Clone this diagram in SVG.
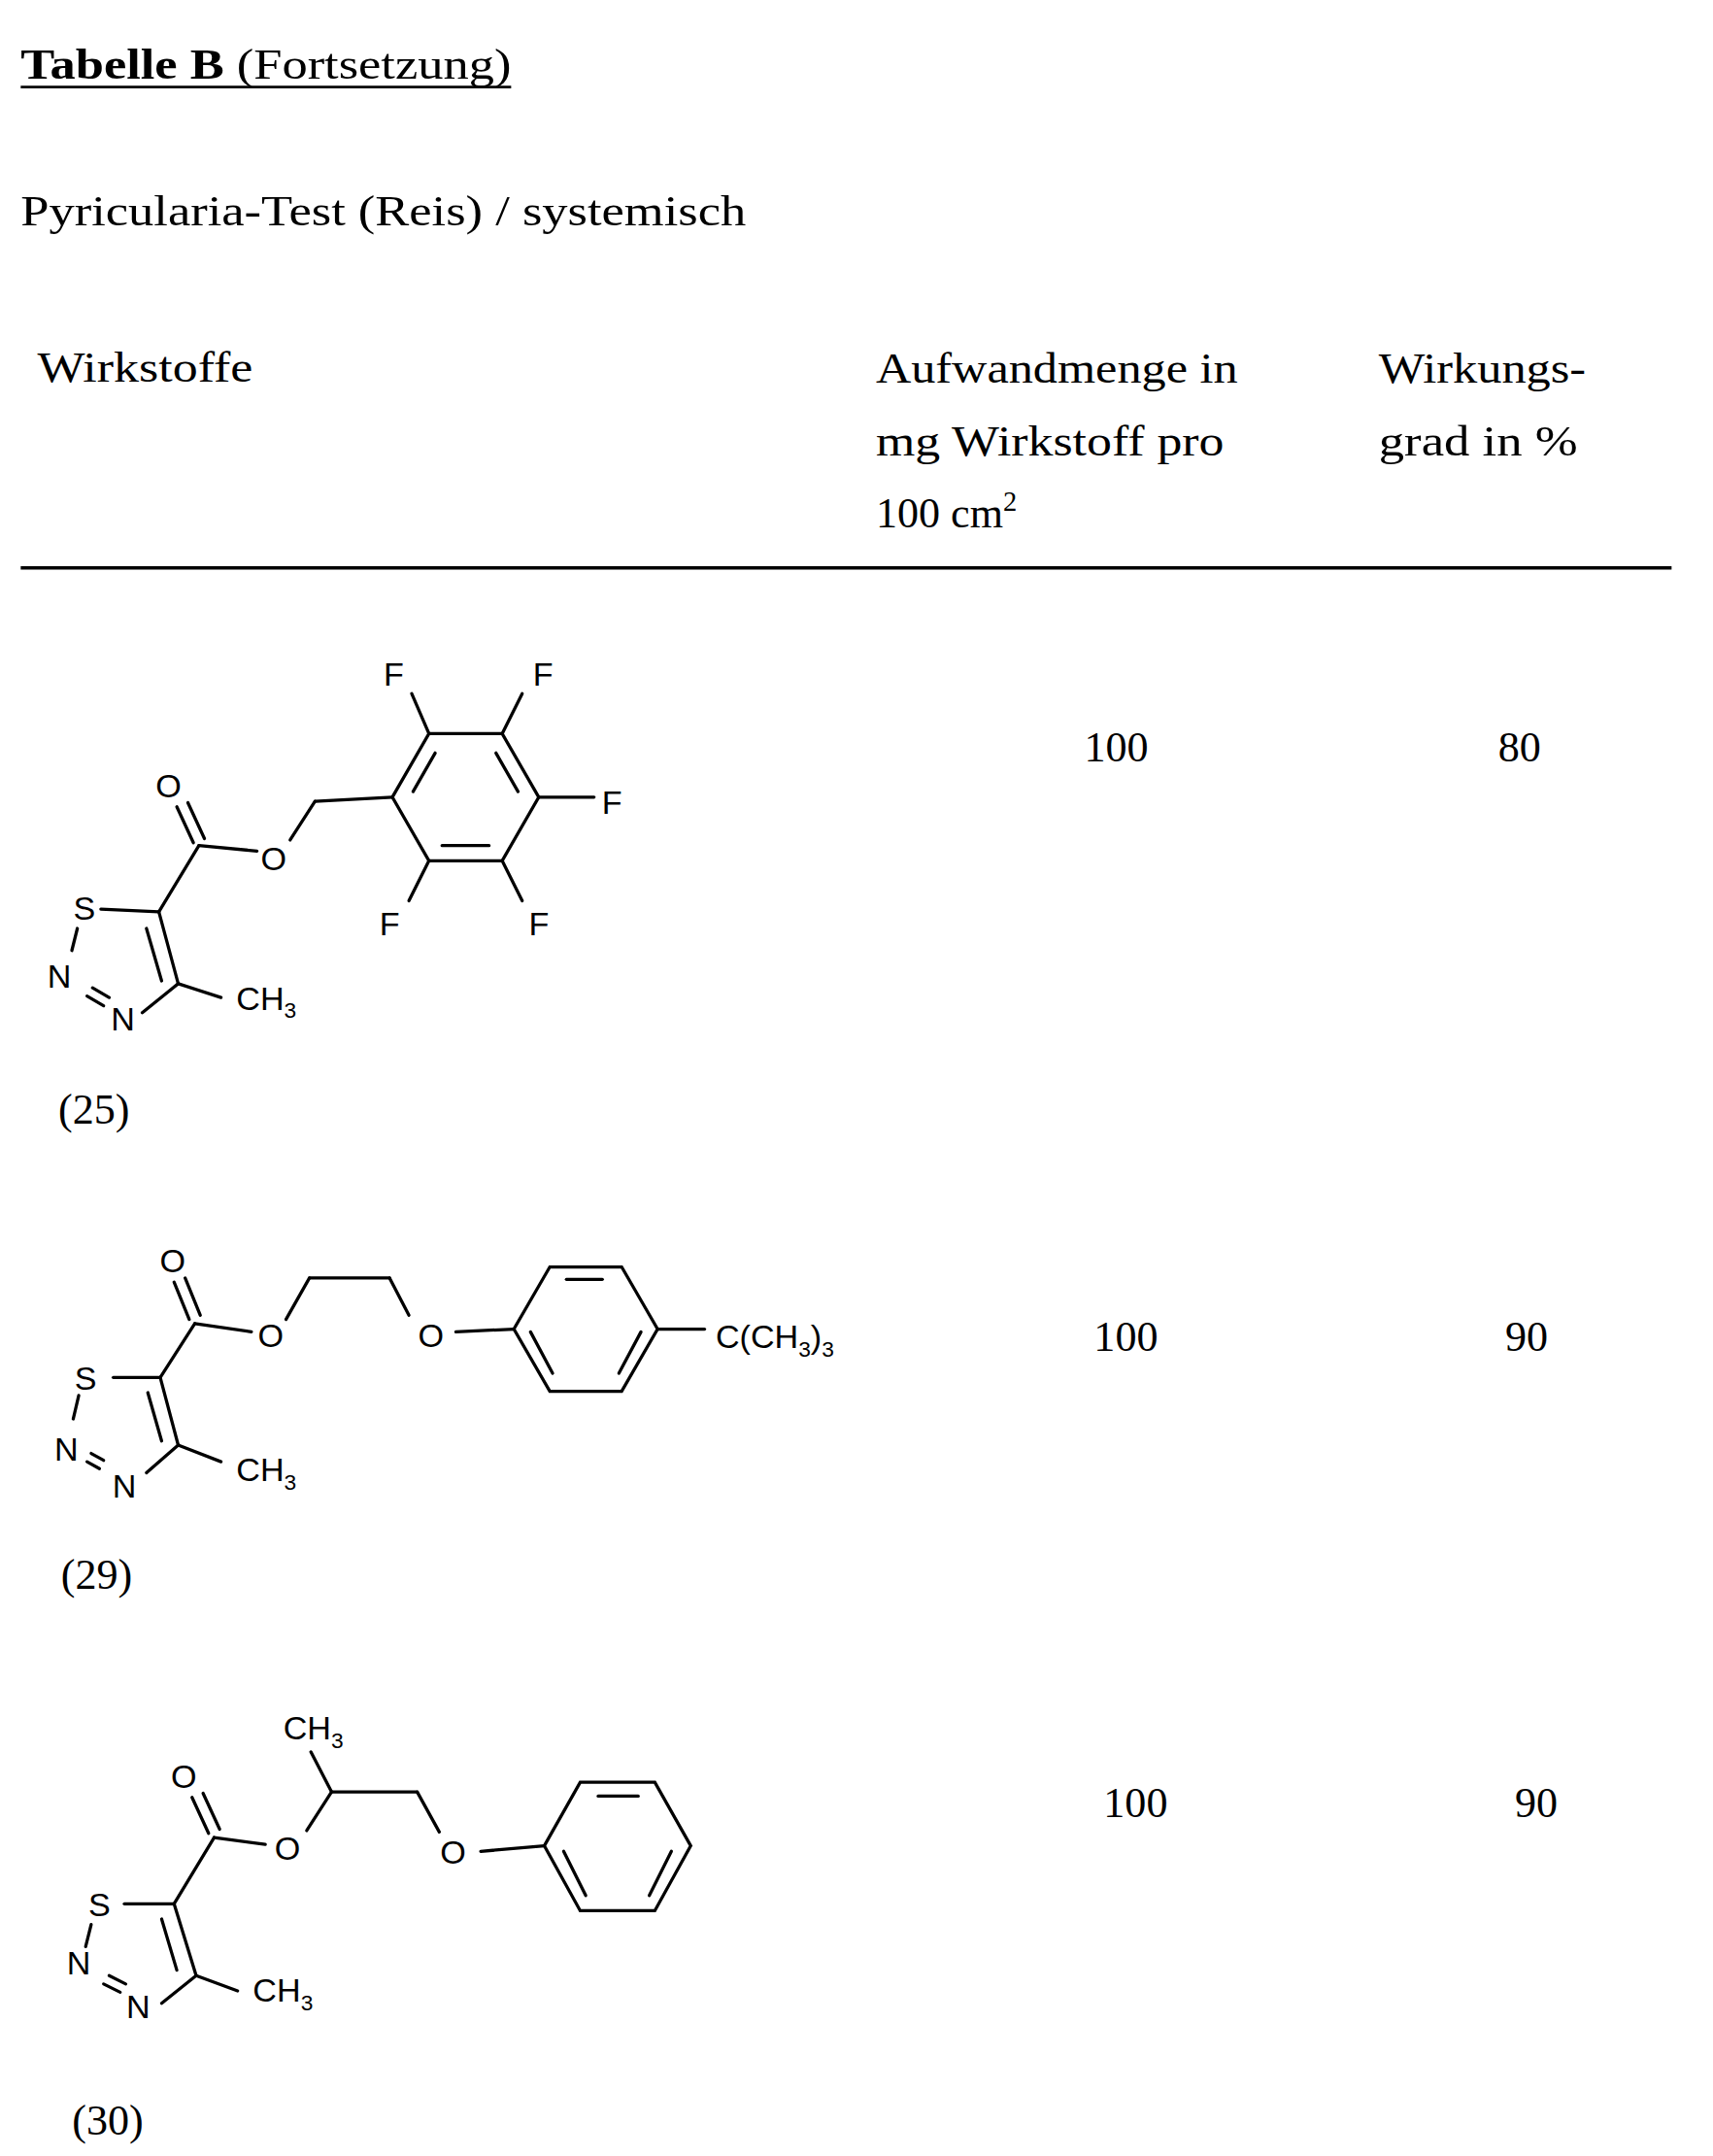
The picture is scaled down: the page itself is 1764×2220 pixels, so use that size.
<svg xmlns="http://www.w3.org/2000/svg" width="1764" height="2220" viewBox="0 0 1764 2220">
<style>
.b{stroke:#000;stroke-width:2.3;fill:none;stroke-linecap:round}
.a{font-family:"Liberation Sans",Arial,sans-serif;font-size:24px;fill:#000;text-anchor:middle}
.l{font-family:"Liberation Sans",Arial,sans-serif;font-size:24px;fill:#000;text-anchor:start}
.t{font-family:"Liberation Serif","Times New Roman",serif;font-size:31px;fill:#000}
.c{text-anchor:middle}
.s{font-size:16px}
</style>
<rect width="1764" height="2220" fill="#fff"/>
<g transform="scale(1.4226)">
<g id="header">
<text class="t" x="15" y="57" textLength="355" lengthAdjust="spacingAndGlyphs"><tspan font-weight="bold">Tabelle B</tspan> (Fortsetzung)</text>
<line x1="15" y1="63" x2="370" y2="63" stroke="#000" stroke-width="2"/>
<text class="t" x="15" y="163" textLength="525" lengthAdjust="spacingAndGlyphs">Pyricularia-Test (Reis) / systemisch</text>
<text class="t" x="27" y="276" textLength="156" lengthAdjust="spacingAndGlyphs">Wirkstoffe</text>
<text class="t" x="634" y="277" textLength="262" lengthAdjust="spacingAndGlyphs">Aufwandmenge in</text>
<text class="t" x="634" y="330" textLength="252" lengthAdjust="spacingAndGlyphs">mg Wirkstoff pro</text>
<text class="t" x="634" y="382">100 cm<tspan dy="-12" font-size="20">2</tspan></text>
<text class="t" x="998" y="277" textLength="150" lengthAdjust="spacingAndGlyphs">Wirkungs-</text>
<text class="t" x="998" y="330" textLength="144" lengthAdjust="spacingAndGlyphs">grad in %</text>
<line x1="15" y1="411" x2="1210" y2="411" stroke="#000" stroke-width="2.5"/>
</g>
<g id="values">
<text class="t c" x="808" y="551">100</text>
<text class="t c" x="1100" y="551">80</text>
<text class="t c" x="815" y="978">100</text>
<text class="t c" x="1105" y="978">90</text>
<text class="t c" x="822" y="1315">100</text>
<text class="t c" x="1112" y="1315">90</text>
</g>
<g id="compound25">
<g class="b">
<polygon points="390,577 363.5,531 310.5,531 284,577 310.5,623 363.5,623"/>
<line x1="315" y1="545" x2="299" y2="573"/>
<line x1="359" y1="545" x2="375" y2="573"/>
<line x1="320" y1="612" x2="354" y2="612"/>
<line x1="310.5" y1="531" x2="298" y2="502"/>
<line x1="363.5" y1="531" x2="378" y2="502"/>
<line x1="390" y1="577" x2="430" y2="577"/>
<line x1="310.5" y1="623" x2="296" y2="652"/>
<line x1="363.5" y1="623" x2="378" y2="652"/>
<line x1="284" y1="577" x2="228" y2="580"/>
<line x1="228" y1="580" x2="210" y2="608"/>
<line x1="144" y1="612" x2="186" y2="616"/>
<line x1="140" y1="610" x2="128" y2="584"/>
<line x1="148" y1="607" x2="136" y2="581"/>
<line x1="144" y1="612" x2="115" y2="660"/>
<line x1="73" y1="658" x2="115" y2="660"/>
<line x1="115" y1="660" x2="129" y2="712"/>
<line x1="106" y1="672" x2="117" y2="710"/>
<line x1="129" y1="712" x2="160" y2="722"/>
<line x1="129" y1="712" x2="103" y2="733"/>
<line x1="56" y1="672" x2="52" y2="688"/>
<line x1="63" y1="721" x2="75" y2="728"/>
<line x1="67" y1="715" x2="79" y2="722"/>
</g>
<text class="a" x="285" y="496">F</text>
<text class="a" x="393" y="496">F</text>
<text class="a" x="443" y="589">F</text>
<text class="a" x="282" y="677">F</text>
<text class="a" x="390" y="677">F</text>
<text class="a" x="198" y="630">O</text>
<text class="a" x="122" y="577">O</text>
<text class="a" x="61" y="666">S</text>
<text class="a" x="43" y="715">N</text>
<text class="a" x="89" y="746">N</text>
<text class="l" x="171" y="731">CH<tspan class="s" dy="6">3</tspan></text>
<text class="t c" x="68" y="813">(25)</text>
</g>
<g id="compound29">
<g class="b">
<polygon points="476,962 450,917 398,917 372,962 398,1007 450,1007"/>
<line x1="410" y1="926" x2="436" y2="926"/>
<line x1="384" y1="964" x2="400" y2="994"/>
<line x1="464" y1="964" x2="448" y2="994"/>
<line x1="476" y1="962" x2="510" y2="962"/>
<line x1="372" y1="962" x2="330" y2="964"/>
<line x1="296" y1="952" x2="282" y2="925"/>
<line x1="282" y1="925" x2="224" y2="925"/>
<line x1="224" y1="925" x2="207" y2="955"/>
<line x1="141" y1="958" x2="182" y2="964"/>
<line x1="137" y1="955" x2="126" y2="928"/>
<line x1="145" y1="952" x2="134" y2="925"/>
<line x1="141" y1="958" x2="116" y2="997"/>
<line x1="82" y1="997" x2="116" y2="997"/>
<line x1="116" y1="997" x2="129" y2="1046"/>
<line x1="107" y1="1008" x2="117" y2="1043"/>
<line x1="129" y1="1046" x2="160" y2="1058"/>
<line x1="129" y1="1046" x2="106" y2="1066"/>
<line x1="57" y1="1010" x2="53" y2="1027"/>
<line x1="63" y1="1058" x2="72" y2="1063"/>
<line x1="66" y1="1052" x2="75" y2="1057"/>
</g>
<text class="a" x="125" y="921">O</text>
<text class="a" x="196" y="975">O</text>
<text class="a" x="312" y="975">O</text>
<text class="a" x="62" y="1006">S</text>
<text class="a" x="48" y="1057">N</text>
<text class="a" x="90" y="1084">N</text>
<text class="l" x="171" y="1072">CH<tspan class="s" dy="6">3</tspan></text>
<text class="l" x="518" y="976">C(CH<tspan class="s" dy="6">3</tspan><tspan dy="-6">)</tspan><tspan class="s" dy="6">3</tspan></text>
<text class="t c" x="70" y="1150">(29)</text>
</g>
<g id="compound30">
<g class="b">
<polygon points="500,1336 474,1290 420,1290 394,1336 420,1383 474,1383"/>
<line x1="433" y1="1300" x2="462" y2="1300"/>
<line x1="408" y1="1340" x2="424" y2="1372"/>
<line x1="486" y1="1340" x2="470" y2="1372"/>
<line x1="394" y1="1336" x2="348" y2="1340"/>
<line x1="318" y1="1326" x2="302" y2="1297"/>
<line x1="302" y1="1297" x2="240" y2="1297"/>
<line x1="240" y1="1297" x2="225" y2="1268"/>
<line x1="240" y1="1297" x2="222" y2="1325"/>
<line x1="155" y1="1330" x2="192" y2="1335"/>
<line x1="151" y1="1327" x2="139" y2="1301"/>
<line x1="159" y1="1324" x2="147" y2="1298"/>
<line x1="155" y1="1330" x2="126" y2="1378"/>
<line x1="90" y1="1378" x2="126" y2="1378"/>
<line x1="126" y1="1378" x2="142" y2="1430"/>
<line x1="117" y1="1389" x2="128" y2="1426"/>
<line x1="142" y1="1430" x2="172" y2="1441"/>
<line x1="142" y1="1430" x2="117" y2="1450"/>
<line x1="66" y1="1393" x2="62" y2="1409"/>
<line x1="75" y1="1436" x2="87" y2="1442"/>
<line x1="79" y1="1430" x2="91" y2="1436"/>
</g>
<text class="a" x="133" y="1294">O</text>
<text class="a" x="208" y="1346">O</text>
<text class="a" x="328" y="1349">O</text>
<text class="l" x="205" y="1259">CH<tspan class="s" dy="6">3</tspan></text>
<text class="a" x="72" y="1387">S</text>
<text class="a" x="57" y="1429">N</text>
<text class="a" x="100" y="1461">N</text>
<text class="l" x="183" y="1449">CH<tspan class="s" dy="6">3</tspan></text>
<text class="t c" x="78" y="1545">(30)</text>
</g>
</g>
</svg>
